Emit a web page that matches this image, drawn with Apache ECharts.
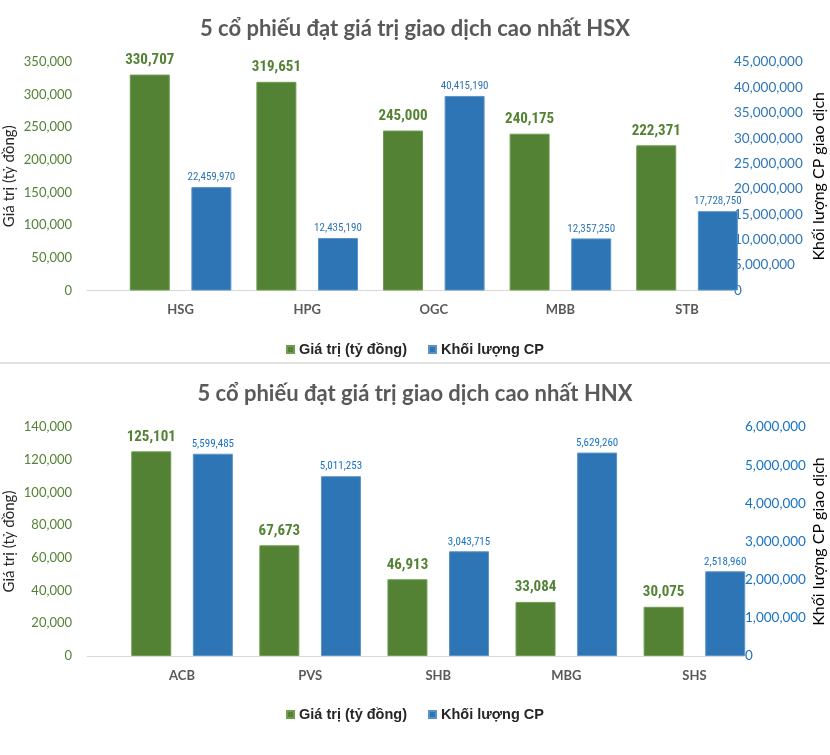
<!DOCTYPE html>
<html>
<head>
<meta charset="utf-8">
<script src="https://cdn.jsdelivr.net/npm/echarts@6/dist/echarts.min.js"></script>
<style>
  html, body { margin: 0; padding: 0; background: #ffffff; }
  #chart { width: 830px; height: 755px; }
</style>
</head>
<body>
<div id="chart"></div>
<script>
// ---- data ----
const hsxTitle = '5 cổ phiếu đạt giá trị giao dịch cao nhất HSX';
const hnxTitle = '5 cổ phiếu đạt giá trị giao dịch cao nhất HNX';
const seriesNames = ['Giá trị (tỷ đồng)', 'Khối lượng CP'];
const leftAxisName = 'Giá trị (tỷ đồng)';
const rightAxisName = 'Khối lượng CP giao dịch';

const hsxCategories = ['HSG', 'HPG', 'OGC', 'MBB', 'STB'];
const hsxValue = [330707, 319651, 245000, 240175, 222371];
const hsxVolume = [22459970, 12435190, 40415190, 12357250, 17728750];

const hnxCategories = ['ACB', 'PVS', 'SHB', 'MBG', 'SHS'];
const hnxValue = [125101, 67673, 46913, 33084, 30075];
const hnxVolume = [5599485, 5011253, 3043715, 5629260, 2518960];

// axis ranges (tick labels)
const hsxLeftAxis = { min: 0, max: 350000, interval: 50000 };
const hsxRightAxis = { min: 0, max: 45000000, interval: 5000000 };
const hnxLeftAxis = { min: 0, max: 140000, interval: 20000 };
const hnxRightAxis = { min: 0, max: 6000000, interval: 1000000 };
// in the reference the volume bars sit slightly below their labelled values
// (secondary scale shifted); this shift reproduces that drawing
const hsxVolumeShift = 2100000;
const hnxVolumeShift = 300000;

// ---- styles ----
const GREEN = '#548235';
const GREEN_TXT = '#548235';
const BLUE = '#2E75B6';
const BLUE_TXT_HSX = '#2E75B6';
const BLUE_TXT_HNX = '#1872C4';
const fmt = v => Number(v).toLocaleString('en-US');
const AXIS_FONT = 'Lato, "Open Sans", sans-serif';
const NARROW = '"Liberation Sans Narrow", "Arial Narrow", "Roboto Condensed", sans-serif';

function pts(arr) { return arr.map((v, i) => [i, v]); }

const chart = echarts.init(document.getElementById('chart'), null, { renderer: 'canvas' });

function xAxisFor(gridIndex, cats, min, max) {
  return {
    type: 'value', gridIndex, min, max,
    axisLine: { show: true, lineStyle: { color: '#d9d9d9', width: 1 } },
    axisTick: { show: false },
    splitLine: { show: false },
    axisLabel: {
      customValues: cats.map((c, i) => i),
      formatter: v => cats[Math.round(v)] || '',
      color: '#595959', fontFamily: AXIS_FONT, fontSize: 13, fontWeight: 'bold', margin: 13
    }
  };
}

function leftAxis(gridIndex, r) {
  return {
    type: 'value', gridIndex, position: 'left', min: r.min, max: r.max, interval: r.interval,
    name: leftAxisName, nameLocation: 'middle', nameGap: 70, nameMoveOverlap: false,
    nameTextStyle: { color: '#262626', fontFamily: AXIS_FONT, fontSize: 15 },
    axisLine: { show: false }, axisTick: { show: false }, splitLine: { show: false },
    axisLabel: { color: GREEN_TXT, fontFamily: AXIS_FONT, fontSize: 13, margin: 15, formatter: fmt }
  };
}

function rightAxis(gridIndex, r, color, gap) {
  return {
    type: 'value', gridIndex, position: 'right', min: r.min, max: r.max, interval: r.interval,
    name: rightAxisName, nameLocation: 'middle', nameGap: gap, nameMoveOverlap: false,
    nameTextStyle: { color: '#000000', fontFamily: AXIS_FONT, fontSize: 16 },
    axisLine: { show: false }, axisTick: { show: false }, splitLine: { show: false },
    axisLabel: { color, fontFamily: AXIS_FONT, fontSize: 13.5, margin: 1, formatter: fmt }
  };
}

function shiftedAxis(gridIndex, r, shift) {
  return {
    type: 'value', gridIndex, position: 'right', show: false,
    min: r.min + shift, max: r.max + shift, startValue: r.min + shift,
    axisLine: { show: false }, axisTick: { show: false }, splitLine: { show: false },
    axisLabel: { show: false }
  };
}

function greenSeries(xi, yi, vals) {
  return {
    name: seriesNames[0], type: 'bar', xAxisIndex: xi, yAxisIndex: yi,
    data: pts(vals), barWidth: 40, barGap: '54%', clip: true,
    itemStyle: { color: GREEN, borderColor: '#6f9b4f', borderWidth: 1 },
    label: {
      show: true, position: 'top', distance: 7, formatter: p => fmt(p.value[1]),
      color: GREEN_TXT, fontFamily: NARROW, fontWeight: 'bold', fontSize: 15
    }
  };
}

function blueSeries(xi, yi, vals, txtColor) {
  return {
    name: seriesNames[1], type: 'bar', xAxisIndex: xi, yAxisIndex: yi,
    data: pts(vals), barWidth: 40, barGap: '54%', clip: true,
    itemStyle: { color: BLUE, borderColor: '#5b93c9', borderWidth: 1 },
    label: {
      show: true, position: 'top', distance: 4, formatter: p => fmt(p.value[1]),
      color: txtColor, fontFamily: NARROW, fontSize: 11
    }
  };
}

function legendAt(top) {
  return {
    top, left: 'center', data: seriesNames, icon: 'rect', itemWidth: 7, itemHeight: 7, itemGap: 21,
    textStyle: { color: '#262626', fontFamily: '"Liberation Sans", Arial, sans-serif', fontWeight: 'bold', fontSize: 14.5 }
  };
}

const option = {
  backgroundColor: '#ffffff',
  animation: false,
  title: [
    { text: hsxTitle, left: 'center', top: 13, textStyle: { color: '#595959', fontFamily: AXIS_FONT, fontWeight: 'bold', fontSize: 22 } },
    { text: hnxTitle, left: 'center', top: 378, textStyle: { color: '#595959', fontFamily: AXIS_FONT, fontWeight: 'bold', fontSize: 22 } }
  ],
  legend: [legendAt(337), legendAt(702)],
  grid: [
    { left: 87, top: 62, width: 646, height: 228.5, containLabel: false, outerBoundsMode: 'none' },
    { left: 87, top: 427, width: 657, height: 229, containLabel: false, outerBoundsMode: 'none' }
  ],
  xAxis: [
    xAxisFor(0, hsxCategories, -0.739, 4.363),
    xAxisFor(1, hnxCategories, -0.742, 4.387)
  ],
  yAxis: [
    leftAxis(0, hsxLeftAxis),
    rightAxis(0, hsxRightAxis, BLUE_TXT_HSX, 78),
    shiftedAxis(0, hsxRightAxis, hsxVolumeShift),
    leftAxis(1, hnxLeftAxis),
    rightAxis(1, hnxRightAxis, BLUE_TXT_HNX, 67),
    shiftedAxis(1, hnxRightAxis, hnxVolumeShift)
  ],
  series: [
    greenSeries(0, 0, hsxValue),
    blueSeries(0, 2, hsxVolume, BLUE_TXT_HSX),
    greenSeries(1, 3, hnxValue),
    blueSeries(1, 5, hnxVolume, BLUE_TXT_HNX)
  ],
  graphic: [
    { type: 'line', shape: { x1: 0, y1: 363, x2: 830, y2: 363 }, style: { stroke: '#d9d9d9', lineWidth: 1.5 }, silent: true }
  ]
};

chart.setOption(option);
</script>
</body>
</html>
